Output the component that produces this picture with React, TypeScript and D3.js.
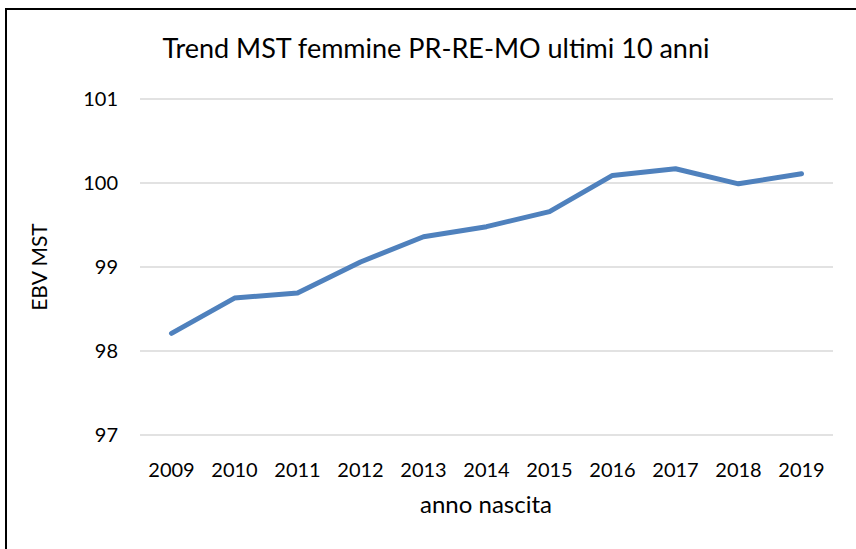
import { useEffect, useRef } from "react"
import * as d3 from "d3"

const years = ["2009", "2010", "2011", "2012", "2013", "2014", "2015", "2016", "2017", "2018", "2019"]
const ebvMst = [98.21, 98.63, 98.69, 99.06, 99.36, 99.48, 99.66, 100.09, 100.17, 99.99, 100.11]
const yTicks = [97, 98, 99, 100, 101]

const W = 856
const H = 549
const FONT = "Lato, 'Open Sans', sans-serif"

export default function App() {
  const svgRef = useRef<SVGSVGElement>(null)

  useEffect(() => {
    if (!svgRef.current) return
    const svg = d3.select(svgRef.current)
    svg.selectAll("*").remove()

    // outer chart-area frame (right/bottom edges fall outside the picture)
    svg
      .append("rect")
      .attr("x", 6)
      .attr("y", 9)
      .attr("width", 900)
      .attr("height", 600)
      .attr("fill", "#fff")
      .attr("stroke", "#000")
      .attr("stroke-width", 2)

    const margin = { top: 99, right: 23, bottom: 114, left: 140 }
    const x = d3
      .scaleBand<string>()
      .domain(years)
      .range([margin.left, W - margin.right])
    const y = d3
      .scaleLinear()
      .domain([97, 101])
      .range([H - margin.bottom, margin.top])

    // gridlines
    svg
      .append("g")
      .selectAll("line")
      .data(yTicks)
      .enter()
      .append("line")
      .attr("x1", margin.left)
      .attr("x2", W - margin.right)
      .attr("y1", (d) => y(d))
      .attr("y2", (d) => y(d))
      .attr("stroke", "#d9d9d9")
      .attr("stroke-width", 1.5)

    // y tick labels
    svg
      .append("g")
      .selectAll("text")
      .data(yTicks)
      .enter()
      .append("text")
      .attr("x", 118)
      .attr("y", (d) => y(d))
      .attr("dy", "0.36em")
      .attr("text-anchor", "end")
      .attr("font-family", FONT)
      .attr("font-size", 20)
      .attr("fill", "#000")
      .text((d) => d)

    // x tick labels
    svg
      .append("g")
      .selectAll("text")
      .data(years)
      .enter()
      .append("text")
      .attr("x", (d) => (x(d) as number) + x.bandwidth() / 2)
      .attr("y", 477)
      .attr("text-anchor", "middle")
      .attr("font-family", FONT)
      .attr("font-size", 20)
      .attr("fill", "#000")
      .text((d) => d)

    // line
    const line = d3
      .line<number>()
      .x((_, i) => (x(years[i]) as number) + x.bandwidth() / 2)
      .y((d) => y(d))

    svg
      .append("path")
      .datum(ebvMst)
      .attr("d", line)
      .attr("fill", "none")
      .attr("stroke", "#4f81bd")
      .attr("stroke-width", 5)
      .attr("stroke-linejoin", "round")
      .attr("stroke-linecap", "round")

    // title
    svg
      .append("text")
      .attr("x", 436)
      .attr("y", 58)
      .attr("text-anchor", "middle")
      .attr("font-family", FONT)
      .attr("font-size", 27)
      .attr("fill", "#000")
      .text("Trend MST femmine PR-RE-MO ultimi 10 anni")

    // axis titles
    svg
      .append("text")
      .attr("x", 486)
      .attr("y", 513)
      .attr("text-anchor", "middle")
      .attr("font-family", FONT)
      .attr("font-size", 24)
      .attr("fill", "#000")
      .text("anno nascita")

    svg
      .append("text")
      .attr("transform", `translate(47,${y(99)}) rotate(-90)`)
      .attr("text-anchor", "middle")
      .attr("font-family", FONT)
      .attr("font-size", 21)
      .attr("fill", "#000")
      .text("EBV MST")
  }, [])

  return (
    <svg
      ref={svgRef}
      width={W}
      height={H}
      style={{ position: "absolute", left: 0, top: 0, background: "#fff" }}
    />
  )
}
